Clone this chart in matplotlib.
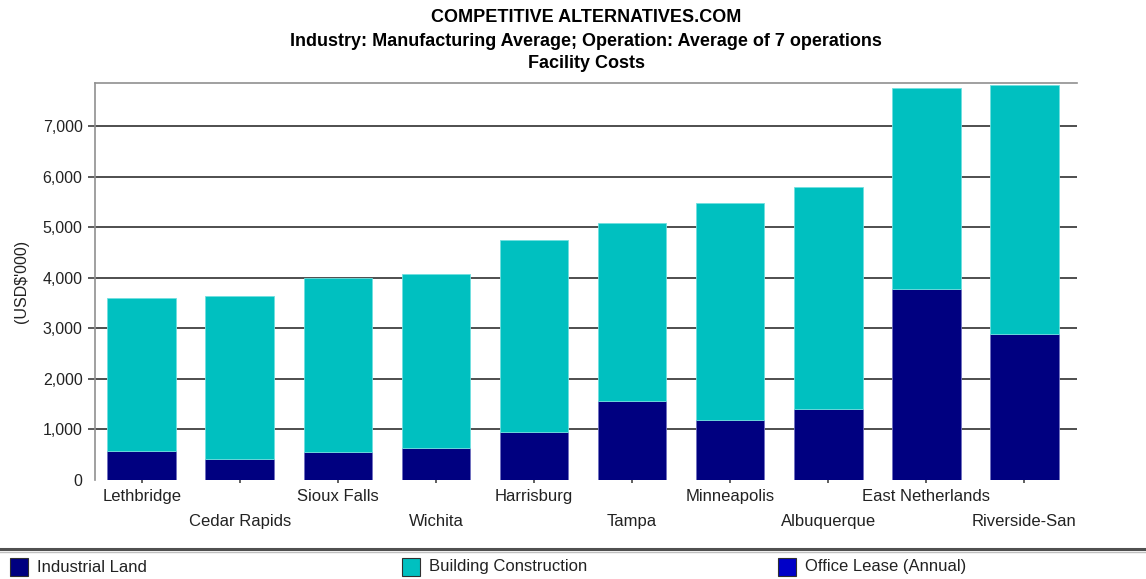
import matplotlib
matplotlib.use("Agg")
import matplotlib.pyplot as plt
from matplotlib import font_manager
from matplotlib.patches import Rectangle
from matplotlib.lines import Line2D
import numpy as np

# facility costs by location, USD '000
cities = ["Lethbridge", "Cedar Rapids", "Sioux Falls", "Wichita", "Harrisburg",
          "Tampa", "Minneapolis", "Albuquerque", "East Netherlands", "Riverside-San"]
industrial_land = [574, 416, 549, 634, 945, 1558, 1188, 1406, 3770, 2879]
building_construction = [3018, 3228, 3439, 3439, 3802, 3531, 4297, 4384, 3980, 4937]

series_names = ["Industrial Land", "Building Construction", "Office Lease (Annual)"]
series_colors = ["#000080", "#00C0C0", "#0000C8"]

title_lines = ["COMPETITIVE ALTERNATIVES.COM",
               "Industry: Manufacturing Average; Operation: Average of 7 operations",
               "Facility Costs"]
yticks = [0, 1000, 2000, 3000, 4000, 5000, 6000, 7000]

installed = {f.name for f in font_manager.fontManager.ttflist}
body_font = "Liberation Sans" if "Liberation Sans" in installed else "DejaVu Sans"
title_font = "Liberation Sans Narrow" if "Liberation Sans Narrow" in installed else body_font
plt.rcParams["font.family"] = [body_font, "DejaVu Sans"]

W, H = 1146, 579
fig = plt.figure(figsize=(W / 100, H / 100), dpi=100)
ax = fig.add_axes([95 / W, (H - 479.7) / H, (1077 - 95) / W, (479.7 - 82.7) / H])

x = np.arange(len(cities))
ax.bar(x, industrial_land, width=0.70, color=series_colors[0],
       edgecolor="#7070c0", linewidth=0.6, zorder=3)
ax.bar(x, building_construction, width=0.70, bottom=industrial_land,
       color=series_colors[1], edgecolor="#70e0e0", linewidth=0.6, zorder=3)

ax.set_xlim(-0.476, 9.537)
ax.set_ylim(0, 7860)
ax.set_yticks(yticks)
ax.set_yticklabels([f"{v:,}" for v in yticks], fontsize=11.5, color="#222222")
ax.yaxis.grid(True, color="#404040", linewidth=1.3, zorder=1)
ax.set_axisbelow(True)
ax.tick_params(axis="y", length=5, width=1.2, color="#404040", pad=4)
# no baseline rule or tick at zero
zero_tick = ax.yaxis.get_major_ticks()[0]
zero_tick.gridline.set_visible(False)
zero_tick.tick1line.set_visible(False)

# alternate labels on two rows so they don't collide
ax.set_xticks(x)
ax.set_xticklabels(cities, fontsize=12, color="#222222")
ax.tick_params(axis="x", length=2, width=1.2, color="#444444", pad=5)
for tick in ax.xaxis.get_major_ticks()[1::2]:
    tick.set_pad(22.5)

for side in ["right", "bottom"]:
    ax.spines[side].set_visible(False)
for side in ["left", "top"]:
    ax.spines[side].set_color("#909090")
    ax.spines[side].set_linewidth(1.2)

ax.set_ylabel("(USD$'000)", fontsize=11.5, color="#222222", labelpad=10)

cx = (95 + 1077) / 2 / W
for line, ypix in zip(title_lines, [17, 41, 63]):
    fig.text(cx, 1 - ypix / H, line, ha="center", va="center", fontsize=13,
             fontweight="bold", family=[title_font, "DejaVu Sans"])

# legend strip along the bottom
fig.add_artist(Line2D([0, 1], [1 - 549 / H] * 2, color="#505050", linewidth=2.2))
fig.add_artist(Line2D([0, 1], [1 - 552 / H] * 2, color="#c0c0c0", linewidth=1.0))
for name, color, xpix in zip(series_names, series_colors, [10, 402, 778]):
    fig.add_artist(Rectangle((xpix / W, 1 - 576 / H), 18 / W, 18 / H,
                             facecolor=color, edgecolor="#303030", linewidth=0.8))
    fig.text((xpix + 27) / W, 1 - 567 / H, name, ha="left", va="center",
             fontsize=12, color="#222222")

fig.savefig("out.png", dpi=100)
